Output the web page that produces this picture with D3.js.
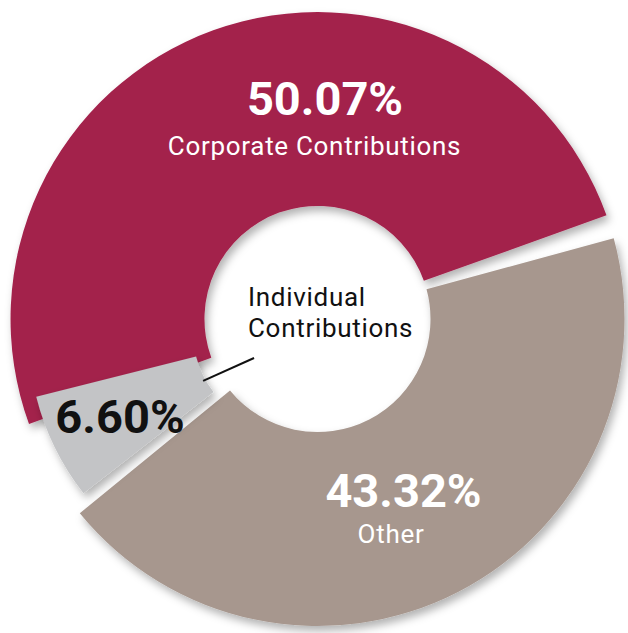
<!DOCTYPE html>
<html>
<head>
<meta charset="utf-8">
<script src="https://cdn.jsdelivr.net/npm/d3@7"></script>
<style>
  html, body { margin: 0; padding: 0; background: #fff; }
  svg { display: block; }
  text { font-family: Roboto, "Noto Sans", sans-serif; }
</style>
</head>
<body>
<svg id="chart" width="628" height="633"></svg>
<script>
// ---- data ----
const categories = ["Corporate Contributions", "Other", "Individual Contributions"];
const values = [50.07, 43.32, 6.60];
const valueLabels = ["50.07%", "43.32%", "6.60%"];
const nameLines = [["Corporate Contributions"], ["Other"], ["Individual", "Contributions"]];

// ---- styles / layout ----
const colors = ["#a3214b", "#a7978e", "#c3c4c6"];
const sliceRotate = [-4.5, 0, 1.3];    // degrees, designer nudge
const sliceScale = [1, 1, 0.85];       // inset slice scaled about its centroid
const pctColor = ["#ffffff", "#ffffff", "#111111"];
const nameColor = ["#ffffff", "#ffffff", "#111111"];
// label offsets relative to the donut centre
const pctPos = [{x: 7.5, y: -204, a: "middle"}, {x: 86, y: 187.5, a: "middle"}, {x: -197.5, y: 114, a: "middle"}];
const namePos = [{x: -3, y: -164, a: "middle", lh: 31}, {x: 73.5, y: 224, a: "middle", lh: 31}, {x: -69.5, y: -13, a: "start", lh: 31}];

const W = 628, H = 633;
const cx = 317.5, cy = 319;
const outerR = 307, innerR = 113;
const deg = Math.PI / 180;
const start = -105.5 * deg;

const svg = d3.select("#chart");
const defs = svg.append("defs");
const f = defs.append("filter").attr("id", "ds")
  .attr("x", "-20%").attr("y", "-20%").attr("width", "140%").attr("height", "140%");
f.append("feDropShadow").attr("dx", 3).attr("dy", 5).attr("stdDeviation", 4)
  .attr("flood-color", "#000").attr("flood-opacity", 0.3);

const table = categories.map((c, i) => ({cat: c, value: values[i], i}));
const pie = d3.pie().sort(null).value(d => d.value)
  .startAngle(start).endAngle(start + 2 * Math.PI);
const arcs = pie(table);
const arc = d3.arc().innerRadius(innerR).outerRadius(outerR);

const g = svg.append("g").attr("transform", `translate(${cx},${cy})`);

arcs.forEach(d => {
  const i = d.data.i;
  const wrap = g.append("g").attr("filter", "url(#ds)");
  const c = arc.centroid(d);
  const k = sliceScale[i];
  let tr = `rotate(${sliceRotate[i]})`;
  if (k !== 1) tr += ` translate(${c[0]},${c[1]}) scale(${k}) translate(${-c[0]},${-c[1]})`;
  wrap.append("path").attr("d", arc(d)).attr("fill", colors[i]).attr("transform", tr);
});

// leader line for the small slice
const small = arcs[2];
const mid = (small.startAngle + small.endAngle) / 2;
const pt = (a, r) => [Math.sin(a) * r, -Math.cos(a) * r];
const p1 = pt(mid - 1 * deg, 130), p2 = pt(mid - 4.2 * deg, 74.5);
g.append("line").attr("x1", p1[0]).attr("y1", p1[1]).attr("x2", p2[0]).attr("y2", p2[1])
  .attr("stroke", "#111").attr("stroke-width", 2);

// labels
arcs.forEach(d => {
  const i = d.data.i;
  g.append("text").attr("x", pctPos[i].x).attr("y", pctPos[i].y)
    .attr("text-anchor", pctPos[i].a).attr("fill", pctColor[i])
    .attr("font-size", 47).attr("font-weight", 700)
    .text(valueLabels[i]);
  nameLines[i].forEach((ln, j) => {
    g.append("text").attr("x", namePos[i].x).attr("y", namePos[i].y + j * namePos[i].lh)
      .attr("text-anchor", namePos[i].a).attr("fill", nameColor[i])
      .attr("font-size", 26).attr("letter-spacing", 0.7)
      .text(ln);
  });
});
</script>
</body>
</html>
